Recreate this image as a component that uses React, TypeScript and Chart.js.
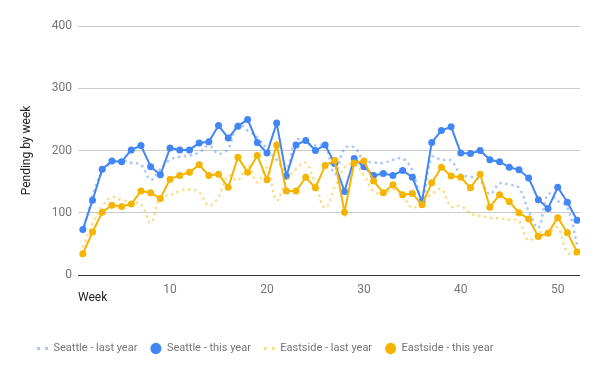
import React, { useEffect, useRef } from 'react';
import { Chart, registerables } from 'chart.js';

Chart.register(...registerables);

const weeks = [1, 2, 3, 4, 5, 6, 7, 8, 9, 10, 11, 12, 13, 14, 15, 16, 17, 18, 19, 20, 21, 22, 23, 24, 25, 26, 27, 28, 29, 30, 31, 32, 33, 34, 35, 36, 37, 38, 39, 40, 41, 42, 43, 44, 45, 46, 47, 48, 49, 50, 51, 52];

const seattleLastYear = [68, 128, 165, 180, 184, 180, 177, 153, 170, 185, 190, 192, 197, 208, 195, 203, 243, 232, 221, 203, 185, 170, 217, 213, 208, 208, 162, 203, 205, 184, 181, 180, 185, 187, 168, 121, 189, 185, 184, 161, 158, 152, 130, 147, 145, 140, 103, 76, 130, 119, 108, 49];
const seattleThisYear = [73, 120, 170, 183, 182, 201, 208, 174, 161, 204, 201, 201, 212, 214, 240, 220, 239, 250, 213, 196, 244, 159, 209, 216, 200, 209, 179, 134, 187, 174, 160, 163, 160, 168, 157, 118, 213, 232, 238, 196, 195, 200, 185, 182, 173, 169, 156, 121, 107, 141, 117, 88];
const eastsideLastYear = [44, 82, 110, 125, 120, 116, 114, 84, 125, 128, 135, 137, 133, 112, 125, 160, 152, 176, 149, 172, 120, 152, 170, 180, 146, 108, 141, 173, 178, 160, 135, 130, 138, 127, 108, 119, 130, 138, 110, 111, 99, 95, 92, 91, 89, 87, 55, 68, 68, 76, 36, 33];
const eastsideThisYear = [34, 69, 101, 112, 110, 114, 135, 132, 123, 154, 160, 165, 177, 160, 162, 141, 189, 165, 192, 153, 209, 135, 135, 157, 140, 176, 184, 101, 180, 183, 151, 132, 145, 129, 131, 113, 148, 173, 159, 157, 140, 162, 109, 129, 118, 100, 90, 62, 67, 92, 68, 37];

const seriesNames = ['Seattle - last year', 'Seattle - this year', 'Eastside - last year', 'Eastside - this year'];
const xTickValues = [10, 20, 30, 40, 50];
const yTickValues = [0, 100, 200, 300, 400];

const BLUE = '#4285f4';
const BLUE_LIGHT = 'rgba(66,133,244,0.45)';
const YELLOW = '#f4b400';
const YELLOW_LIGHT = 'rgba(244,180,0,0.45)';
const FONT = { family: 'Roboto', size: 12 };
const LEGEND_FONT = { family: 'Roboto', size: 11 };
const LEGEND_START_X = 37;

const shiftLegend = {
  id: 'shiftLegend',
  afterLayout(chart: any) {
    const lg = chart.legend;
    if (lg && lg.lineWidths && lg.lineWidths.length) {
      const pad = lg.options.labels.padding;
      const start = (lg.left + pad + lg.right - lg.lineWidths[0]) / 2;
      const shift = LEGEND_START_X - start;
      lg.left += shift;
      lg.right += shift;
    }
  },
};

export default function App() {
  const ref = useRef<HTMLCanvasElement>(null);

  useEffect(() => {
    document.body.style.margin = '0';
    const pts = (arr: number[]) => weeks.map((w, i) => ({ x: w, y: arr[i] }));
    const dotted = (label: string, arr: number[], color: string, order: number) => ({
      label,
      data: pts(arr),
      borderColor: color,
      backgroundColor: color,
      borderWidth: 2.5,
      borderDash: [2.5, 3.5],
      tension: 0.4,
      pointRadius: 0,
      pointStyle: 'line',
      order,
    });
    const solid = (label: string, arr: number[], color: string, order: number) => ({
      label,
      data: pts(arr),
      borderColor: color,
      backgroundColor: color,
      borderWidth: 2,
      tension: 0,
      pointRadius: 3.5,
      pointBorderWidth: 0,
      pointStyle: 'circle',
      order,
    });

    const chart = new Chart(ref.current as HTMLCanvasElement, {
      type: 'line',
      data: {
        datasets: [
          dotted(seriesNames[0], seattleLastYear, BLUE_LIGHT, 4),
          solid(seriesNames[1], seattleThisYear, BLUE, 3),
          dotted(seriesNames[2], eastsideLastYear, YELLOW_LIGHT, 2),
          solid(seriesNames[3], eastsideThisYear, YELLOW, 1),
        ] as any,
      },
      options: {
        responsive: false,
        animation: false,
        devicePixelRatio: 1,
        layout: { padding: { top: 26, right: 20, bottom: 7, left: 0 } },
        plugins: {
          legend: {
            position: 'bottom',
            reverse: true,
            labels: {
              usePointStyle: true,
              pointStyleWidth: 11,
              boxHeight: 8,
              padding: 13,
              color: '#757575',
              font: LEGEND_FONT,
              generateLabels: (c: any) => {
                const items = Chart.defaults.plugins.legend.labels.generateLabels(c);
                items.forEach((it: any) => {
                  if (it.pointStyle === 'line') {
                    it.lineDash = [3, 5];
                    it.lineWidth = 3;
                  } else {
                    it.lineWidth = 0;
                  }
                });
                return items;
              },
            },
          },
          tooltip: { enabled: false },
        },
        scales: {
          x: {
            type: 'linear',
            min: 0.5,
            max: 52.3,
            afterBuildTicks: (s: any) => {
              s.ticks = xTickValues.map((v) => ({ value: v }));
            },
            afterFit: (s: any) => {
              s.height = 55;
            },
            grid: { display: false, drawTicks: false },
            border: { display: false },
            ticks: { padding: 8, color: '#757575', font: FONT, maxRotation: 0 },
            title: {
              display: true,
              text: 'Week',
              align: 'start',
              color: '#222222',
              font: FONT,
              padding: { top: 0, bottom: 25 },
            },
          },
          y: {
            type: 'linear',
            min: 0,
            max: 400,
            afterBuildTicks: (s: any) => {
              s.ticks = yTickValues.map((v) => ({ value: v }));
            },
            afterFit: (s: any) => {
              s.width = 78;
            },
            grid: {
              color: (ctx: any) => (ctx.tick && ctx.tick.value === 0 ? '#333333' : '#cccccc'),
              drawTicks: false,
            },
            border: { display: false },
            ticks: { padding: 6, color: '#757575', font: FONT },
            title: {
              display: true,
              text: 'Pending by week',
              color: '#222222',
              font: FONT,
              padding: { top: 20, bottom: 0 },
            },
          },
        },
      } as any,
      plugins: [shiftLegend],
    });
    return () => chart.destroy();
  }, []);

  return (
    <div style={{ width: 600, height: 371 }}>
      <canvas ref={ref} width={600} height={371} style={{ display: 'block', width: 600, height: 371 }} />
    </div>
  );
}
